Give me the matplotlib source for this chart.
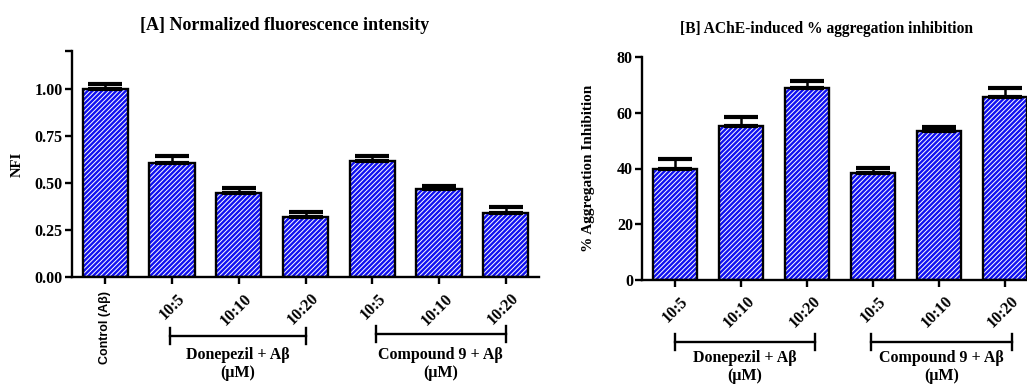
import matplotlib
matplotlib.use("Agg")
import matplotlib.pyplot as plt
import numpy as np

plt.rcParams['hatch.linewidth'] = 0.7

# ---- data ----
a_labels = ["Control (A\u03b2)", "10:5", "10:10", "10:20", "10:5", "10:10", "10:20"]
a_values = [1.00, 0.605, 0.447, 0.318, 0.618, 0.467, 0.340]
a_errors = [0.025, 0.038, 0.026, 0.027, 0.025, 0.017, 0.031]

b_labels = ["10:5", "10:10", "10:20", "10:5", "10:10", "10:20"]
b_values = [39.8, 55.3, 68.8, 38.3, 53.4, 65.8]
b_errors = [3.6, 3.1, 2.6, 1.9, 1.5, 3.0]

a_yticks = [0.00, 0.25, 0.50, 0.75, 1.00]
b_yticks = [0, 20, 40, 60, 80]

title_a = "[A] Normalized fluorescence intensity"
title_b = "[B] AChE-induced % aggregation inhibition"
ylabel_a = "NFI"
ylabel_b = "% Aggregation Inhibition"
group1 = "Donepezil + A\u03b2\n(\u03bcM)"
group2 = "Compound 9 + A\u03b2\n(\u03bcM)"

SERIF = "Liberation Serif"
SANS = "Liberation Sans"
BLUE = "#1010f0"

fig = plt.figure(figsize=(10.27, 3.85), dpi=100)
W, H = 1027, 385

def px_axes(x0, y_bottom, x1, y_top):
    return fig.add_axes([x0 / W, 1 - y_bottom / H, (x1 - x0) / W, (y_bottom - y_top) / H])

axA = px_axes(72, 277, 539, 51)
axB = px_axes(642, 280, 1038, 57)

TICK_FS = 11.5

def draw(ax, values, errors):
    x = np.arange(len(values))
    ax.bar(x, values, width=0.68, color=BLUE, edgecolor="white", hatch="///////", linewidth=0, zorder=2)
    ax.bar(x, values, width=0.68, fill=False, edgecolor="black", linewidth=1.7, zorder=3)
    ax.errorbar(x, values, yerr=[np.zeros(len(values)), errors], fmt="none", ecolor="black",
                elinewidth=1.8, capsize=12, capthick=3.0, zorder=4)
    for s in ["top", "right"]:
        ax.spines[s].set_visible(False)
    for s in ["left", "bottom"]:
        ax.spines[s].set_linewidth(1.7)
    ax.tick_params(axis="both", width=1.7, length=5, direction="out", pad=1.5)
    return x

# Panel A
xA = draw(axA, a_values, a_errors)
axA.set_xlim(-0.5, 6.5)
axA.set_ylim(0, 1.2)
axA.set_yticks(a_yticks + [1.2])
axA.set_yticklabels(["%.2f" % v for v in a_yticks] + [""], fontfamily=SERIF, fontweight="bold", fontsize=TICK_FS)
axA.set_xticks(xA)
axA.set_xticklabels([])
axA.set_title(title_a, fontfamily=SERIF, fontweight="bold", fontsize=13, pad=15, x=0.455)
axA.set_ylabel(ylabel_a, fontfamily=SERIF, fontweight="bold", fontsize=10.5, labelpad=8)
for i, lab in enumerate(a_labels):
    if i == 0:
        axA.text(i, -0.06, lab, transform=axA.get_xaxis_transform(), rotation=90, ha="center", va="top",
                 fontfamily=SANS, fontweight="bold", fontsize=9)
    else:
        axA.text(i + 0.08, -0.06, lab, transform=axA.get_xaxis_transform(), rotation=45, ha="right", va="top",
                 rotation_mode="anchor", fontfamily=SERIF, fontweight="bold", fontsize=TICK_FS)

# Panel B
xB = draw(axB, b_values, b_errors)
axB.set_xlim(-0.5, 5.5)
axB.set_ylim(0, 80)
axB.set_yticks(b_yticks)
axB.set_yticklabels([str(v) for v in b_yticks], fontfamily=SERIF, fontweight="bold", fontsize=TICK_FS)
axB.set_xticks(xB)
axB.set_xticklabels([])
axB.set_title(title_b, fontfamily=SERIF, fontweight="bold", fontsize=11.2, pad=17, x=0.465)
axB.set_ylabel(ylabel_b, fontfamily=SERIF, fontweight="bold", fontsize=11, labelpad=16)
for i, lab in enumerate(b_labels):
    axB.text(i + 0.08, -0.06, lab, transform=axB.get_xaxis_transform(), rotation=45, ha="right", va="top",
             rotation_mode="anchor", fontfamily=SERIF, fontweight="bold", fontsize=TICK_FS)

def bracket(ax, x0, x1, yb, yt, text):
    tr = ax.get_xaxis_transform()
    ax.plot([x0, x1], [yb, yb], color="black", lw=1.7, transform=tr, clip_on=False)
    for xx in (x0, x1):
        ax.plot([xx, xx], [yb - 0.035, yb + 0.035], color="black", lw=1.7, transform=tr, clip_on=False)
    ax.text((x0 + x1) / 2, yt, text, transform=tr, ha="center", va="top", fontfamily=SERIF,
            fontweight="bold", fontsize=11.5, linespacing=1.15, clip_on=False)

bracket(axA, 0.97, 3.0, -0.261, -0.31, group1)
bracket(axA, 4.05, 6.0, -0.253, -0.31, group2)
bracket(axB, 0.0, 2.12, -0.278, -0.315, group1)
bracket(axB, 2.97, 5.1, -0.278, -0.315, group2)

fig.savefig("out.png", dpi=100)
